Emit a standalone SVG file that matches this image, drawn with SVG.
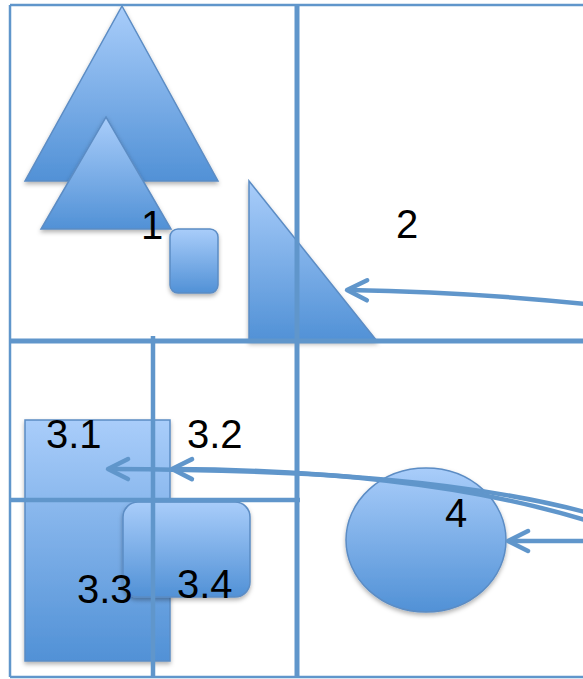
<svg xmlns="http://www.w3.org/2000/svg" width="583" height="679" viewBox="0 0 583 679">
<defs>
<linearGradient id="g" x1="0" y1="0" x2="0" y2="1">
<stop offset="0" stop-color="#a9cdfa"/>
<stop offset="1" stop-color="#5191d6"/>
</linearGradient>
<filter id="sh" x="-10%" y="-10%" width="120%" height="125%">
<feDropShadow dx="0" dy="2.5" stdDeviation="2" flood-color="#000" flood-opacity="0.3"/>
</filter>
<marker id="ah" viewBox="-26 -14 30 28" markerUnits="userSpaceOnUse" markerWidth="30" markerHeight="28" refX="-1" refY="0" orient="auto">
<path d="M-20,-10 L0,0 L-20,10" fill="none" stroke="#6096cb" stroke-width="4.5" stroke-linecap="round" stroke-linejoin="round"/>
</marker>
<style>
.shape{fill:url(#g);stroke:#5b8cc4;stroke-width:1.5;filter:url(#sh)}
.grid{stroke:#6096cb;fill:none}
.conn{fill:none;stroke:#6096cb;stroke-width:4.5;marker-end:url(#ah)}
.lbl{font-family:"Liberation Sans",Arial,sans-serif;font-size:40px;fill:#000}
</style>
</defs>
<rect width="583" height="679" fill="#fff"/>
<g id="nodes">
<g id="tri-big"><polygon class="shape" points="122,6 218,181 25,181"/></g>
<g id="tri-small"><polygon class="shape" points="106,117 171,229 41,229"/></g>
<g id="square-1"><rect class="shape" x="170" y="229" width="48" height="64" rx="8"/></g>
<g id="tri-right"><polygon class="shape" points="249,181 377,341 249,341"/></g>
<g id="rect-3"><rect class="shape" x="25" y="420" width="145" height="241"/></g>
<g id="rrect-34"><rect class="shape" x="123" y="502" width="127" height="95" rx="15"/></g>
<g id="ellipse-4"><ellipse class="shape" cx="426" cy="540" rx="80" ry="72"/></g>
</g>
<g id="grid">
<path class="grid" stroke-width="2.5" d="M10,5 H583 M10,5 V677 M10,677 H583"/>
<path class="grid" stroke-width="5" d="M297,5 V677 M10,341 H583"/>
<path class="grid" stroke-width="4.5" d="M153,336 V677 M10,500 H300"/>
</g>
<g id="connectors">
<path class="conn" d="M585,304 Q470,292 348,290"/>
<path class="conn" d="M585,541 H509"/>
<path class="conn" d="M585,520 C470,485 330,470 173,469"/>
<path class="conn" d="M585,512 C470,482 330,470 109,469"/>
</g>
<g id="labels">
<text class="lbl" x="141" y="239">1</text>
<text class="lbl" x="396" y="238">2</text>
<text class="lbl" x="46" y="448">3.1</text>
<text class="lbl" x="187" y="448">3.2</text>
<text class="lbl" x="77" y="603">3.3</text>
<text class="lbl" x="177" y="598">3.4</text>
<text class="lbl" x="445" y="527">4</text>
</g>
</svg>
